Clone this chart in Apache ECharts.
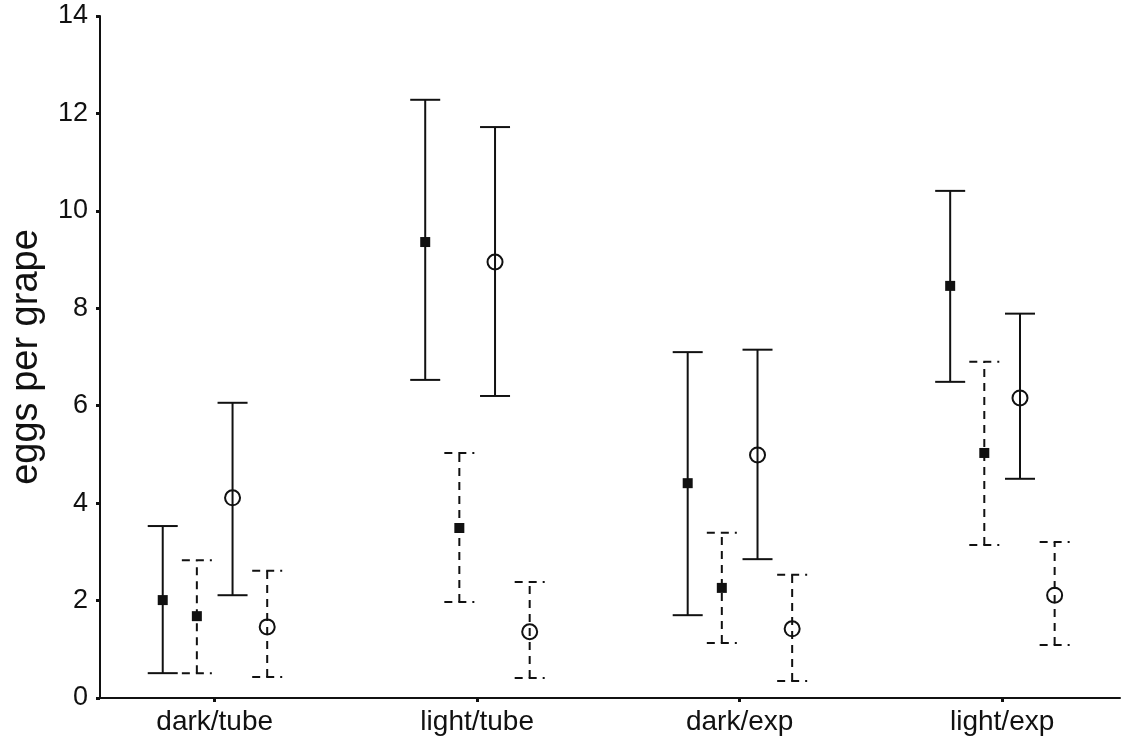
<!DOCTYPE html>
<html>
<head>
<meta charset="utf-8">
<title>eggs per grape</title>
<script src="https://cdn.jsdelivr.net/npm/echarts@6/dist/echarts.min.js"></script>
<style>
  html, body { margin: 0; padding: 0; background: #fff; }
  #chart { width: 1126px; height: 750px; }
</style>
</head>
<body>
<div id="chart"></div>
<script>
// categories on the x axis
const categories = ['dark/tube', 'light/tube', 'dark/exp', 'light/exp']

// filled squares, solid error bars
const sqSolidMean = [2.01, 9.36, 4.41, 8.46]
const sqSolidLow = [0.51, 6.53, 1.70, 6.49]
const sqSolidHigh = [3.53, 12.28, 7.10, 10.41]

// filled squares, dashed error bars
const sqDashMean = [1.68, 3.49, 2.26, 5.03]
const sqDashLow = [0.51, 1.97, 1.13, 3.14]
const sqDashHigh = [2.83, 5.03, 3.39, 6.90]

// open circles, solid error bars
const ciSolidMean = [4.11, 8.95, 4.99, 6.16]
const ciSolidLow = [2.11, 6.20, 2.85, 4.50]
const ciSolidHigh = [6.06, 11.72, 7.15, 7.89]

// open circles, dashed error bars
const ciDashMean = [1.46, 1.36, 1.42, 2.11]
const ciDashLow = [0.43, 0.41, 0.35, 1.09]
const ciDashHigh = [2.61, 2.38, 2.53, 3.20]

const FONT = '"Liberation Sans", Arial, sans-serif'
const INK = '#111'

// horizontal shift of each series within a category group (axis units)
const shift = { sqSolid: -0.198, sqDash: -0.068, ciSolid: 0.068, ciDash: 0.2 }

function barData(off, low, high) {
  return categories.map((c, i) => [i + 1 + off, low[i], high[i]])
}
function pointData(off, mean) {
  return categories.map((c, i) => [i + 1 + off, mean[i]])
}

function errorBar(dashed) {
  return function(params, api) {
    const x = api.value(0)
    const lo = api.coord([x, api.value(1)])
    const hi = api.coord([x, api.value(2)])
    const half = 15
    const style = { stroke: INK, lineWidth: 2, lineDash: dashed ? [8, 6] : null, fill: null }
    return {
      type: 'group',
      children: [
        { type: 'line', shape: { x1: lo[0], y1: lo[1], x2: hi[0], y2: hi[1] }, style },
        { type: 'line', shape: { x1: hi[0] - half, y1: hi[1], x2: hi[0] + half, y2: hi[1] }, style },
        { type: 'line', shape: { x1: lo[0] - half, y1: lo[1], x2: lo[0] + half, y2: lo[1] }, style }
      ]
    }
  }
}

const chart = echarts.init(document.getElementById('chart'))
chart.setOption({
  backgroundColor: '#fff',
  animation: false,
  grid: { left: 98, right: 6, top: 16, bottom: 52 },
  xAxis: {
    type: 'value',
    min: 0.563,
    max: 4.449,
    splitLine: { show: false },
    axisLine: { lineStyle: { color: INK, width: 2 } },
    axisTick: { customValues: [1, 2, 3, 4], length: 4, lineStyle: { color: INK, width: 3 } },
    axisLabel: {
      customValues: [1, 2, 3, 4],
      formatter: v => categories[Math.round(v) - 1],
      color: INK,
      fontFamily: FONT,
      fontSize: 28,
      margin: 10
    }
  },
  yAxis: {
    type: 'value',
    min: 0,
    max: 14,
    interval: 2,
    name: 'eggs per grape',
    nameLocation: 'middle',
    nameGap: 54,
    nameTextStyle: { color: INK, fontFamily: FONT, fontSize: 38 },
    splitLine: { show: false },
    axisLine: { show: true, lineStyle: { color: INK, width: 2 } },
    axisTick: { show: true, length: 4, lineStyle: { color: INK, width: 3 } },
    axisLabel: { color: INK, fontFamily: FONT, fontSize: 27, margin: 12 }
  },
  series: [
    { type: 'custom', renderItem: errorBar(false), data: barData(shift.sqSolid, sqSolidLow, sqSolidHigh), encode: { x: 0, y: [1, 2] }, z: 1 },
    { type: 'custom', renderItem: errorBar(true), data: barData(shift.sqDash, sqDashLow, sqDashHigh), encode: { x: 0, y: [1, 2] }, z: 1 },
    { type: 'custom', renderItem: errorBar(false), data: barData(shift.ciSolid, ciSolidLow, ciSolidHigh), encode: { x: 0, y: [1, 2] }, z: 1 },
    { type: 'custom', renderItem: errorBar(true), data: barData(shift.ciDash, ciDashLow, ciDashHigh), encode: { x: 0, y: [1, 2] }, z: 1 },
    { type: 'scatter', symbol: 'rect', symbolSize: 10, itemStyle: { color: INK, opacity: 1 }, data: pointData(shift.sqSolid, sqSolidMean), z: 3 },
    { type: 'scatter', symbol: 'rect', symbolSize: 10, itemStyle: { color: INK, opacity: 1 }, data: pointData(shift.sqDash, sqDashMean), z: 3 },
    { type: 'scatter', symbol: 'circle', symbolSize: 15, itemStyle: { color: 'rgba(0,0,0,0)', borderColor: INK, borderWidth: 2, opacity: 1 }, data: pointData(shift.ciSolid, ciSolidMean), z: 3 },
    { type: 'scatter', symbol: 'circle', symbolSize: 15, itemStyle: { color: 'rgba(0,0,0,0)', borderColor: INK, borderWidth: 2, opacity: 1 }, data: pointData(shift.ciDash, ciDashMean), z: 3 }
  ]
})
</script>
</body>
</html>
